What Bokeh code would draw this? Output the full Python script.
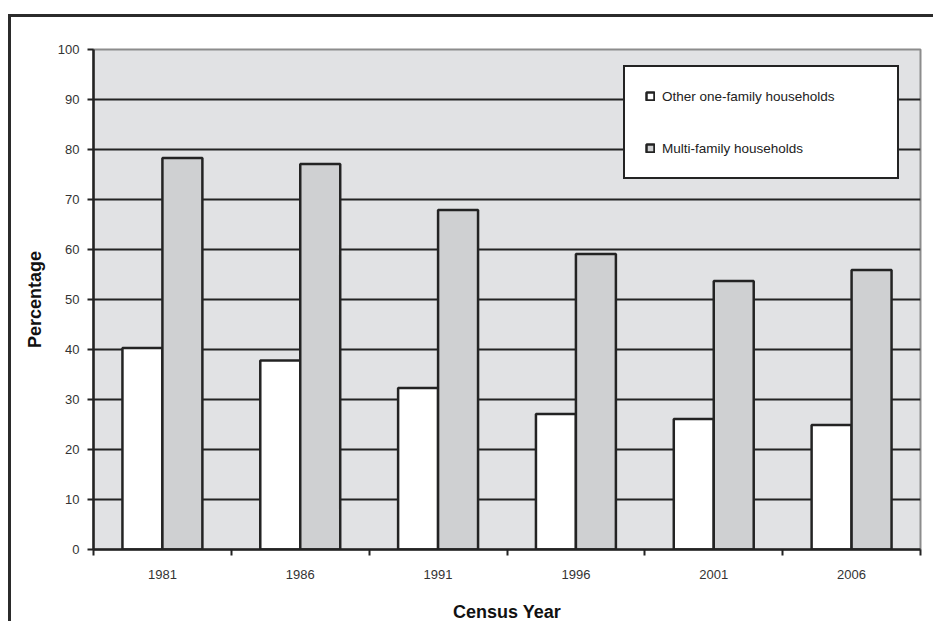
import numpy as np
from bokeh.plotting import figure
from bokeh.models import Range1d, FixedTicker, Legend, LegendItem, ColumnDataSource
from bokeh.embed import file_html
from bokeh.resources import INLINE

years = ["1981", "1986", "1991", "1996", "2001", "2006"]
other_one_family = [40.3, 37.8, 32.3, 27.1, 26.1, 24.9]
multi_family = [78.3, 77.1, 67.9, 59.1, 53.7, 55.9]
series_names = ["Other one-family households", "Multi-family households"]
y_ticks = list(range(0, 101, 10))

FONT = "Liberation Sans"
DARK = "#232323"
TEXT = "#333333"

idx = np.arange(len(years)) + 0.5
bw = 0.29
src = ColumnDataSource(dict(x1=idx - bw / 2, x2=idx + bw / 2,
                            other=other_one_family, multi=multi_family))

p = figure(width=925, height=607, output_backend="svg", toolbar_location=None,
           x_range=Range1d(0, len(years)), y_range=Range1d(0, 100),
           min_border_left=82, min_border_right=16, min_border_top=32,
           min_border_bottom=75)
p.styles = {"margin-left": "8px", "margin-top": "14px",
            "border-left": "3px solid #2b2b2b", "border-top": "3px solid #2b2b2b"}
p.background_fill_color = "#e1e2e4"
p.border_fill_color = "white"
p.outline_line_color = "#8c8c8c"
p.outline_line_width = 2

# grid
p.xgrid.visible = False
p.ygrid.ticker = FixedTicker(ticks=y_ticks[1:-1])
p.ygrid.grid_line_color = DARK
p.ygrid.grid_line_width = 2
p.ygrid.grid_line_alpha = 1

r1 = p.vbar(x="x1", top="other", width=bw, source=src, fill_color="white",
            line_color=DARK, line_width=2.5)
r2 = p.vbar(x="x2", top="multi", width=bw, source=src, fill_color="#cfd0d2",
            line_color=DARK, line_width=2.5)

# y axis
p.yaxis.ticker = FixedTicker(ticks=y_ticks)
p.yaxis.axis_line_color = DARK
p.yaxis.axis_line_width = 2.5
p.yaxis.major_tick_line_color = DARK
p.yaxis.major_tick_line_width = 2
p.yaxis.major_tick_out = 6
p.yaxis.major_tick_in = 0
p.yaxis.minor_tick_line_color = None
p.yaxis.major_label_text_font = FONT
p.yaxis.major_label_text_font_size = "13px"
p.yaxis.major_label_text_color = TEXT
p.yaxis.major_label_standoff = 8
p.yaxis.axis_label = "Percentage"
p.yaxis.axis_label_text_font = FONT
p.yaxis.axis_label_text_font_size = "18px"
p.yaxis.axis_label_text_font_style = "bold"
p.yaxis.axis_label_text_color = "#111111"
p.yaxis.axis_label_standoff = 10

# x axis: labels at centres, ticks at boundaries
p.xaxis.ticker = FixedTicker(ticks=list(idx),
                             minor_ticks=list(range(len(years) + 1)))
p.xaxis.major_label_overrides = {float(x): y for x, y in zip(idx, years)}
p.xaxis.major_tick_line_color = None
p.xaxis.major_tick_out = 6
p.xaxis.minor_tick_line_color = DARK
p.xaxis.minor_tick_line_width = 2
p.xaxis.minor_tick_out = 6
p.xaxis.minor_tick_in = 0
p.xaxis.axis_line_color = DARK
p.xaxis.axis_line_width = 2.5
p.xaxis.major_label_text_font = FONT
p.xaxis.major_label_text_font_size = "13px"
p.xaxis.major_label_text_color = TEXT
p.xaxis.major_label_standoff = 14
p.xaxis.axis_label = "Census Year"
p.xaxis.axis_label_text_font = FONT
p.xaxis.axis_label_text_font_size = "18px"
p.xaxis.axis_label_text_font_style = "bold"
p.xaxis.axis_label_text_color = "#111111"
p.xaxis.axis_label_standoff = 20

legend = Legend(items=[LegendItem(label=series_names[0], renderers=[r1]),
                       LegendItem(label=series_names[1], renderers=[r2])],
                location=(530, 370))
legend.border_line_color = DARK
legend.border_line_alpha = 1
legend.border_line_width = 2
legend.background_fill_color = "white"
legend.background_fill_alpha = 1
legend.padding = 20
legend.spacing = 34
legend.glyph_width = 10
legend.glyph_height = 10
legend.label_standoff = 7
legend.label_width = 215
legend.label_height = 18
legend.label_text_font = FONT
legend.label_text_font_size = "13.5px"
legend.label_text_color = "#222222"
legend.margin = 0
p.add_layout(legend, "center")

open("out.html", "w").write(file_html(p, INLINE))
